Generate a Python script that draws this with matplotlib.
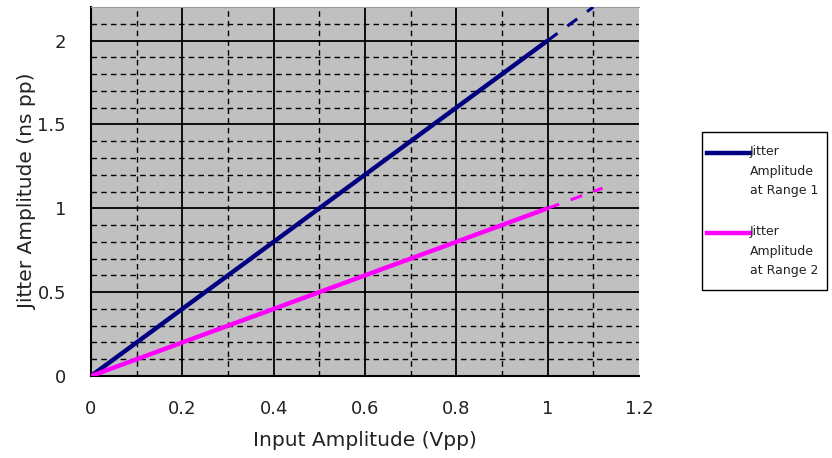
import matplotlib
matplotlib.use("Agg")
import matplotlib.pyplot as plt
from matplotlib.lines import Line2D
from matplotlib.patches import Rectangle
import numpy as np

plt.rcParams['font.family'] = ['DejaVu Sans']

# Data
x_solid = [0, 1.0]
range1_solid = [0, 2.0]
range2_solid = [0, 1.0]
x_ext1 = [1.0, 1.1]
range1_ext = [2.0, 2.2]
x_ext2 = [1.0, 1.12]
range2_ext = [1.0, 1.12]
labels = ["Jitter\nAmplitude\nat Range 1", "Jitter\nAmplitude\nat Range 2"]
colors = ["#000080", "#FF00FF"]
x_ticks = [0, 0.2, 0.4, 0.6, 0.8, 1, 1.2]
x_tick_labels = ["0", "0.2", "0.4", "0.6", "0.8", "1", "1.2"]
y_ticks = [0, 0.5, 1, 1.5, 2]
y_tick_labels = ["0", "0.5", "1", "1.5", "2"]

W, H = 832, 458
fig = plt.figure(figsize=(W / 100, H / 100), dpi=100)
ax = fig.add_axes([91 / W, 1 - 376 / H, (639 - 91) / W, (376 - 7) / H])
ax.set_facecolor("#C0C0C0")
ax.set_xlim(0, 1.2)
ax.set_ylim(0, 2.2)

# Grid
for xv in np.arange(0.1, 1.2, 0.2):
    ax.axvline(xv, color="black", lw=1.0, ls=(0, (4, 3)), zorder=1)
for xv in np.arange(0.2, 1.19, 0.2):
    ax.axvline(xv, color="black", lw=1.3, zorder=1)
for yv in np.arange(0.1, 2.2, 0.1):
    if abs(yv / 0.5 - round(yv / 0.5)) < 1e-6:
        ax.axhline(yv, color="black", lw=1.3, zorder=1)
    else:
        ax.axhline(yv, color="black", lw=1.0, ls=(0, (4, 3)), zorder=1)

# Lines
ax.plot(x_solid, range1_solid, color=colors[0], lw=3.2, zorder=3, solid_capstyle="butt")
ax.plot(x_solid, range2_solid, color=colors[1], lw=3.2, zorder=3, solid_capstyle="butt")
ax.plot(x_ext1, range1_ext, color=colors[0], lw=2.2, ls=(0, (4, 4)), zorder=3)
ax.plot(x_ext2, range2_ext, color=colors[1], lw=2.2, ls=(0, (4, 4)), zorder=3)

ax.set_xticks(x_ticks)
ax.set_xticklabels(x_tick_labels)
ax.set_yticks(y_ticks)
ax.set_yticklabels(y_tick_labels)
ax.tick_params(length=0, labelsize=13, colors="#222222")
ax.tick_params(axis="x", pad=17)
ax.tick_params(axis="y", pad=18)

for s in ["left", "bottom"]:
    ax.spines[s].set_color("black")
    ax.spines[s].set_linewidth(1.5)
ax.spines["top"].set_color("#999999")
ax.spines["top"].set_linewidth(0.8)
ax.spines["right"].set_visible(False)

ax.set_xlabel("Input Amplitude (Vpp)", fontsize=14.5, color="#222222", labelpad=10)
ax.set_ylabel("Jitter Amplitude (ns pp)", fontsize=14.5, color="#222222", labelpad=0)

# Legend (manual, figure pixel coords)
def fx(px):
    return px / W

def fy(py):
    return 1 - py / H

fig.add_artist(Rectangle((fx(702), fy(290)), fx(827) - fx(702), fy(132) - fy(290),
                         transform=fig.transFigure, facecolor="white", edgecolor="black", lw=1.0))
for i, (lab, col) in enumerate(zip(labels, colors)):
    y0 = 153 + i * 80
    fig.add_artist(Line2D([fx(707), fx(750)], [fy(y0), fy(y0)], transform=fig.transFigure,
                          color=col, lw=3.2))
    fig.text(fx(750), fy(y0 - 8), lab, fontsize=9, va="top", ha="left",
             linespacing=1.65, color="#222222")

fig.savefig("out.png", dpi=100)
